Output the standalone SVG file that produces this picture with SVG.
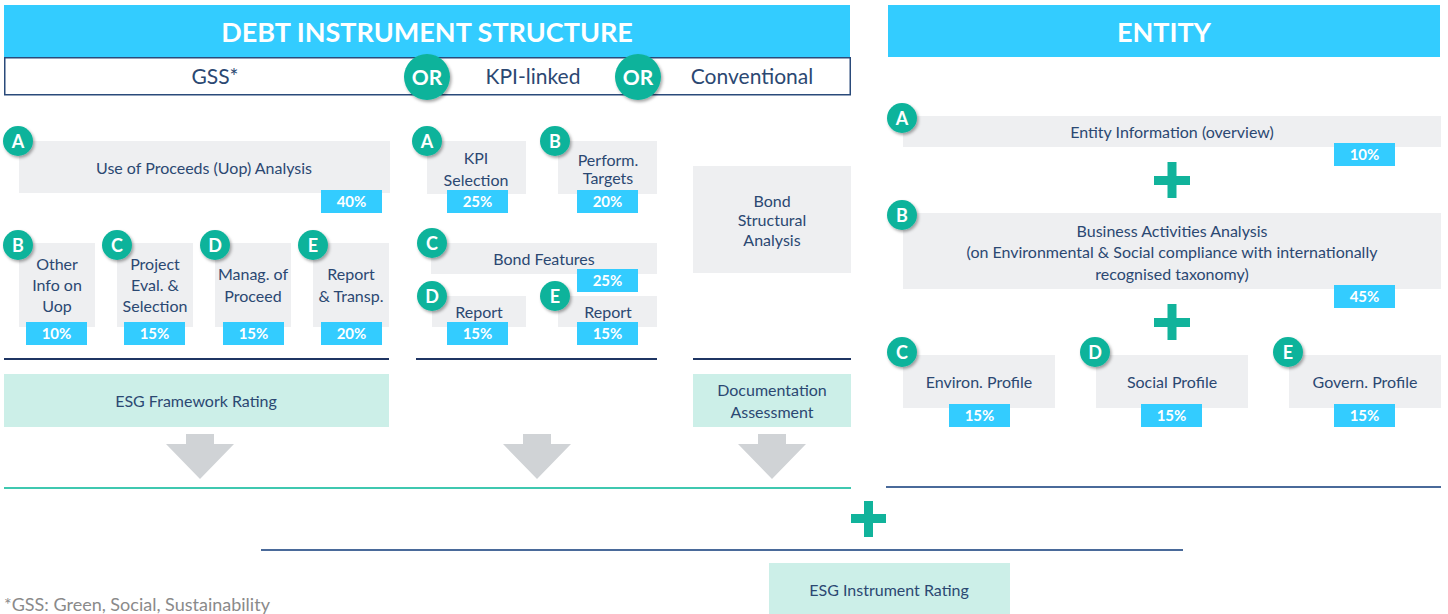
<svg xmlns="http://www.w3.org/2000/svg" width="1448" height="614" viewBox="0 0 1448 614">
<defs>
<filter id="sh" x="-40%" y="-40%" width="180%" height="180%">
<feDropShadow dx="1.5" dy="2" stdDeviation="1.5" flood-color="#000" flood-opacity="0.35"/>
</filter>
<style>
text{font-family:Lato,"Noto Sans","Liberation Sans",sans-serif;}
.hdr{fill:#33ccff;}
.hdrt{fill:#fff;font-size:27px;font-weight:bold;text-anchor:middle;}
.box{fill:#eeeff1;}
.pct{fill:#33ccff;}
.pctt{fill:#fff;font-size:15px;font-weight:bold;text-anchor:middle;}
.lt{fill:#ccefe8;}
.t{fill:#2b4872;font-size:16px;text-anchor:middle;}
.t16{fill:#2b4872;font-size:16px;text-anchor:middle;}
.t20{fill:#2b4872;font-size:21px;text-anchor:middle;}
.bd{fill:#11b39b;filter:url(#sh);}
.bdt{fill:#fff;font-size:18px;font-weight:bold;text-anchor:middle;}
.ort{fill:#fff;font-size:21px;font-weight:bold;text-anchor:middle;}
.ln{stroke:#1f3563;stroke-width:2;}
.ln2{stroke:#4a6a9a;stroke-width:2;}
.lnt{stroke:#3fc8b0;stroke-width:2;}
.arr{fill:#d0d3d6;}
.plus{fill:#11b39b;}
</style>
</defs>

<g id="header-debt">
<rect class="hdr" x="4" y="5" width="846" height="52"/>
<text class="hdrt" x="427" y="42">DEBT INSTRUMENT STRUCTURE</text>
</g>
<g id="header-entity">
<rect class="hdr" x="888" y="5" width="552" height="52"/>
<text class="hdrt" x="1164" y="42">ENTITY</text>
</g>

<g id="type-row">
<rect x="4.75" y="57.75" width="845.5" height="37" fill="#fff" stroke="#2a4a7a" stroke-width="1.5"/>
<text class="t20" x="215" y="84">GSS*</text>
<text class="t20" x="533" y="84">KPI-linked</text>
<text class="t20" x="752" y="84">Conventional</text>
<circle class="bd" cx="427" cy="77" r="23"/>
<text class="ort" x="427" y="84.5">OR</text>
<circle class="bd" cx="638" cy="77" r="23"/>
<text class="ort" x="638" y="84.5">OR</text>
</g>

<!-- GSS -->
<g id="gss-a">
<rect class="box" x="19" y="141" width="371" height="52"/>
<text class="t" x="204" y="173.5">Use of Proceeds (Uop) Analysis</text>
<rect class="pct" x="321" y="190" width="61" height="23"/>
<text class="pctt" x="351.5" y="207">40%</text>
<circle class="bd" cx="18" cy="141" r="15"/>
<text class="bdt" x="18" y="147.5">A</text>
</g>
<g id="gss-b">
<rect class="box" x="19" y="243" width="76" height="84"/>
<text class="t16" x="57" y="270">Other</text>
<text class="t16" x="57" y="291">Info on</text>
<text class="t16" x="57" y="312">Uop</text>
<rect class="pct" x="26" y="322" width="61" height="23"/>
<text class="pctt" x="56.5" y="339">10%</text>
<circle class="bd" cx="18" cy="245" r="15"/>
<text class="bdt" x="18" y="251.5">B</text>
</g>
<g id="gss-c">
<rect class="box" x="117" y="243" width="76" height="84"/>
<text class="t16" x="155" y="270">Project</text>
<text class="t16" x="155" y="291">Eval. &amp;</text>
<text class="t16" x="155" y="312">Selection</text>
<rect class="pct" x="124" y="322" width="61" height="23"/>
<text class="pctt" x="154.5" y="339">15%</text>
<circle class="bd" cx="117" cy="245" r="15"/>
<text class="bdt" x="117" y="251.5">C</text>
</g>
<g id="gss-d">
<rect class="box" x="215" y="243" width="76" height="84"/>
<text class="t16" x="253" y="280">Manag. of</text>
<text class="t16" x="253" y="302">Proceed</text>
<rect class="pct" x="223" y="322" width="61" height="23"/>
<text class="pctt" x="253.5" y="339">15%</text>
<circle class="bd" cx="215" cy="245" r="15"/>
<text class="bdt" x="215" y="251.5">D</text>
</g>
<g id="gss-e">
<rect class="box" x="313" y="243" width="76" height="84"/>
<text class="t16" x="351" y="280">Report</text>
<text class="t16" x="351" y="302">&amp; Transp.</text>
<rect class="pct" x="321" y="322" width="61" height="23"/>
<text class="pctt" x="351.5" y="339">20%</text>
<circle class="bd" cx="313" cy="245" r="15"/>
<text class="bdt" x="313" y="251.5">E</text>
</g>
<g id="esg-framework">
<rect class="lt" x="4" y="374" width="385" height="53"/>
<text class="t" x="196" y="406.5">ESG Framework Rating</text>
</g>

<!-- KPI -->
<g id="kpi-a">
<rect class="box" x="427" y="141" width="99" height="53"/>
<text class="t" x="476" y="163.5">KPI</text>
<text class="t" x="476" y="185.5">Selection</text>
<rect class="pct" x="447" y="190" width="61" height="23"/>
<text class="pctt" x="477.5" y="207">25%</text>
<circle class="bd" cx="427" cy="141" r="15"/>
<text class="bdt" x="427" y="147.5">A</text>
</g>
<g id="kpi-b">
<rect class="box" x="558" y="141" width="99" height="53"/>
<text class="t" x="608" y="165.5">Perform.</text>
<text class="t" x="608" y="183.5">Targets</text>
<rect class="pct" x="577" y="190" width="61" height="23"/>
<text class="pctt" x="607.5" y="207">20%</text>
<circle class="bd" cx="555" cy="141" r="15"/>
<text class="bdt" x="555" y="147.5">B</text>
</g>
<g id="kpi-c">
<rect class="box" x="431" y="243" width="226" height="31"/>
<text class="t" x="544" y="264.5">Bond Features</text>
<rect class="pct" x="577" y="269" width="61" height="23"/>
<text class="pctt" x="607.5" y="286">25%</text>
<circle class="bd" cx="432" cy="243" r="15"/>
<text class="bdt" x="432" y="249.5">C</text>
</g>
<g id="kpi-d">
<rect class="box" x="432" y="296" width="94" height="31"/>
<text class="t" x="479" y="317.5">Report</text>
<rect class="pct" x="447" y="322" width="61" height="23"/>
<text class="pctt" x="477.5" y="339">15%</text>
<circle class="bd" cx="432" cy="296" r="15"/>
<text class="bdt" x="432" y="302.5">D</text>
</g>
<g id="kpi-e">
<rect class="box" x="558" y="296" width="99" height="31"/>
<text class="t" x="608" y="317.5">Report</text>
<rect class="pct" x="577" y="322" width="61" height="23"/>
<text class="pctt" x="607.5" y="339">15%</text>
<circle class="bd" cx="555" cy="296" r="15"/>
<text class="bdt" x="555" y="302.5">E</text>
</g>

<!-- Conventional -->
<g id="bond-structural">
<rect class="box" x="693" y="166" width="158" height="107"/>
<text class="t" x="772" y="206.5">Bond</text>
<text class="t" x="772" y="225.5">Structural</text>
<text class="t" x="772" y="245.5">Analysis</text>
</g>
<g id="documentation">
<rect class="lt" x="693" y="374" width="158" height="53"/>
<text class="t" x="772" y="395.5">Documentation</text>
<text class="t" x="772" y="417.5">Assessment</text>
</g>

<!-- Entity -->
<g id="entity-a">
<rect class="box" x="903" y="116" width="538" height="31"/>
<text class="t" x="1172" y="137.5">Entity Information (overview)</text>
<rect class="pct" x="1334" y="143" width="61" height="23"/>
<text class="pctt" x="1364.5" y="160">10%</text>
<circle class="bd" cx="902" cy="118" r="15"/>
<text class="bdt" x="902" y="124.5">A</text>
</g>
<g id="entity-b">
<rect class="box" x="903" y="213" width="538" height="76"/>
<text class="t" x="1172" y="236.5">Business Activities Analysis</text>
<text class="t" x="1172" y="257.5">(on Environmental &amp; Social compliance with internationally</text>
<text class="t" x="1172" y="279.5">recognised taxonomy)</text>
<rect class="pct" x="1334" y="285" width="61" height="23"/>
<text class="pctt" x="1364.5" y="302">45%</text>
<circle class="bd" cx="902" cy="215" r="15"/>
<text class="bdt" x="902" y="221.5">B</text>
</g>
<g id="entity-c">
<rect class="box" x="903" y="355" width="152" height="53"/>
<text class="t" x="979" y="387.5">Environ. Profile</text>
<rect class="pct" x="949" y="404" width="61" height="23"/>
<text class="pctt" x="979.5" y="421">15%</text>
<circle class="bd" cx="902" cy="352" r="15"/>
<text class="bdt" x="902" y="358.5">C</text>
</g>
<g id="entity-d">
<rect class="box" x="1096" y="355" width="152" height="53"/>
<text class="t" x="1172" y="387.5">Social Profile</text>
<rect class="pct" x="1141" y="404" width="61" height="23"/>
<text class="pctt" x="1171.5" y="421">15%</text>
<circle class="bd" cx="1095" cy="352" r="15"/>
<text class="bdt" x="1095" y="358.5">D</text>
</g>
<g id="entity-e">
<rect class="box" x="1289" y="355" width="152" height="53"/>
<text class="t" x="1365" y="387.5">Govern. Profile</text>
<rect class="pct" x="1334" y="404" width="61" height="23"/>
<text class="pctt" x="1364.5" y="421">15%</text>
<circle class="bd" cx="1288" cy="352" r="15"/>
<text class="bdt" x="1288" y="358.5">E</text>
</g>

<g id="esg-instrument">
<rect class="lt" x="769" y="563" width="241" height="51"/>
<text class="t" x="889" y="595.5">ESG Instrument Rating</text>
</g>

<g id="connectors">
<line class="ln" x1="4" y1="359" x2="389" y2="359"/>
<line class="ln" x1="416" y1="359" x2="657" y2="359"/>
<line class="ln" x1="693" y1="359" x2="851" y2="359"/>
<polygon class="arr" points="186,434 214,434 214,444 234,444 200,479 166,444 186,444"/>
<polygon class="arr" points="523,434 551,434 551,444 571,444 537,479 503,444 523,444"/>
<polygon class="arr" points="758,434 786,434 786,444 806,444 772,479 738,444 758,444"/>
<line class="lnt" x1="4" y1="488" x2="851" y2="488"/>
<line class="ln2" x1="886" y1="487" x2="1441" y2="487"/>
<line class="ln2" x1="261" y1="550" x2="1183" y2="550"/>
<g class="plus">
<rect x="1154" y="176" width="36" height="9"/>
<rect x="1167.5" y="162" width="9" height="36"/>
<rect x="1154" y="318" width="36" height="9"/>
<rect x="1167.5" y="304" width="9" height="36"/>
<rect x="851" y="514" width="35" height="9"/>
<rect x="864" y="501" width="9" height="36"/>
</g>
</g>

<text x="4" y="611" fill="#8a8a8a" font-size="18" font-family="Lato,'Liberation Sans',sans-serif">*GSS: Green, Social, Sustainability</text>
</svg>
